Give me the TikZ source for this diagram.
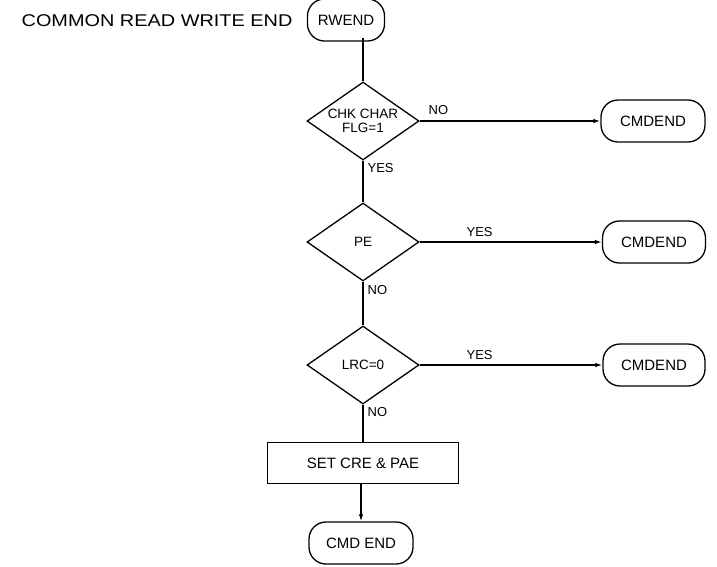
\documentclass[tikz,border=0pt]{standalone}
\usepackage{fontspec}
\setmainfont{Liberation Sans}
\usetikzlibrary{shapes.geometric,arrows.meta}
\begin{document}
\begin{tikzpicture}[x=1pt,y=-1pt,line width=1.3pt,
  term/.style={draw,rounded corners=17pt,minimum width=#1,minimum height=42pt,inner sep=0pt,font=\fontsize{15}{16}\selectfont},
  dec/.style={draw,diamond,inner sep=0pt,minimum width=112pt,minimum height=78pt,font=\fontsize{13.5}{14}\selectfont,align=center},
  dectext/.style={inner sep=0pt,font=\fontsize{13.5}{14}\selectfont,align=center},
  proc/.style={draw,minimum width=191pt,minimum height=41pt,inner sep=0pt,font=\fontsize{15}{16}\selectfont},
  lbl/.style={font=\fontsize{13}{14}\selectfont,inner sep=1pt},
  arr/.style={-{Latex[length=7pt,width=4.5pt]}}]
\useasboundingbox (0,0) rectangle (717,566);
\node[font=\fontsize{17}{18}\selectfont,anchor=west,xscale=1.17] (title) at (17,21) {COMMON READ WRITE END};
\node[term=77pt] (rw) at (346,20) {RWEND};
\node[dec] (d1) at (363,121) {};
\node[dectext] (d1t) at (d1.center) {CHK CHAR\\FLG=1};
\node[dec] (d2) at (363,242) {PE};
\node[dec] (d3) at (363,365) {LRC=0};
\node[proc] (box) at (363,463) {SET CRE \& PAE};
\node[term=104pt] (end) at (361,543) {CMD END};
\node[term=104pt] (e1) at (653,121) {CMDEND};
\node[term=103pt] (e2) at (654,242) {CMDEND};
\node[term=102pt] (e3) at (654,365) {CMDEND};
\coordinate (rwb) at (363,38);
\draw (rwb) -- (d1.north);
\draw (d1.south) -- (d2.north);
\draw (d2.south) -- (d3.north);
\draw (d3.south) -- (box.north);
\draw[arr] (box.south -| end.north) -- (end.north);
\draw[arr] (d1.east) -- (e1.west);
\draw[arr] (d2.east) -- (e2.west);
\draw[arr] (d3.east) -- (e3.west);
\node[lbl,anchor=south west] (n1) at (427,116) {NO};
\node[lbl,anchor=north west] (y1) at (366,162) {YES};
\node[lbl,anchor=south west] (y2) at (465,238) {YES};
\node[lbl,anchor=north west] (n2) at (366,284) {NO};
\node[lbl,anchor=south west] (y3) at (465,361) {YES};
\node[lbl,anchor=north west] (n3) at (366,406) {NO};
\end{tikzpicture}
\end{document}
